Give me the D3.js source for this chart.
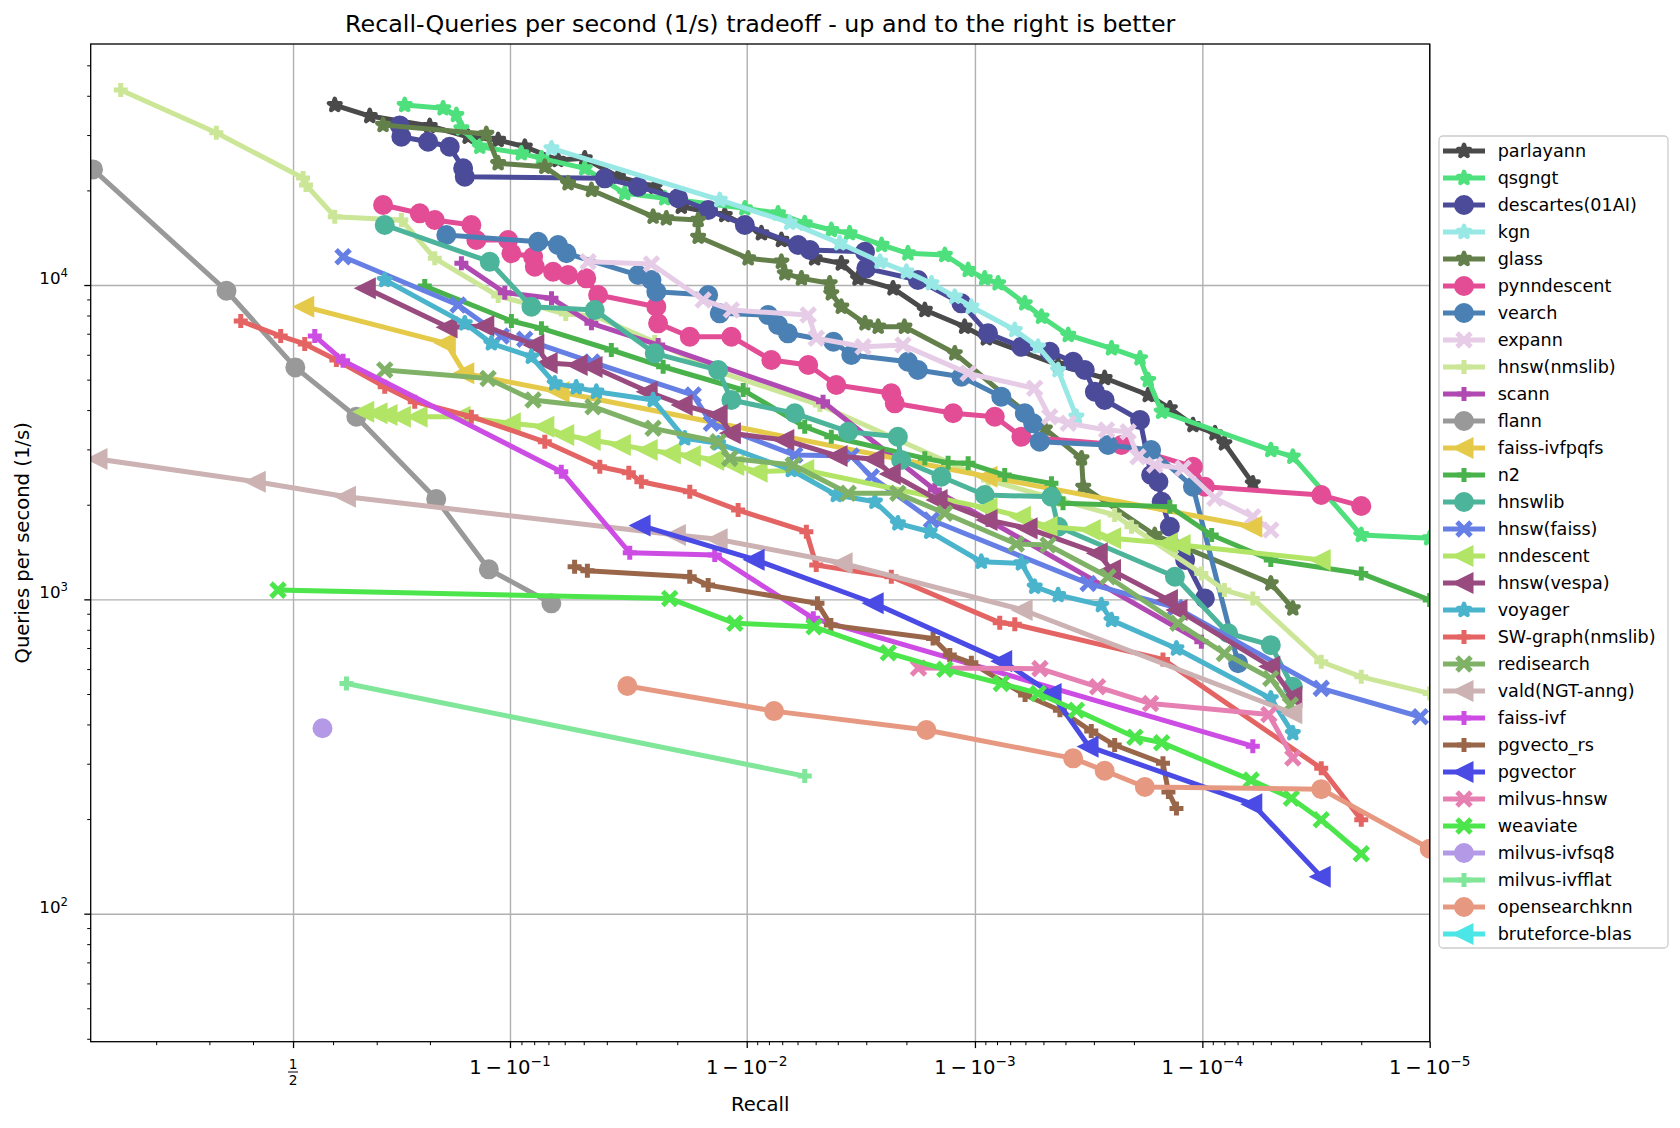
<!DOCTYPE html>
<html>
<head>
<meta charset="utf-8">
<script src="https://cdn.jsdelivr.net/npm/d3@7"></script>
<style>
body { margin: 0; background: #fff; }
svg text { font-family: "DejaVu Sans", sans-serif; fill: #000; }
</style>
</head>
<body>
<svg id="chart" width="1680" height="1128"></svg>
<script>
// ---- data: [recall, queries per second] ----
var parlayann = [[0.6041,37380],[0.685,34480],[0.7997,32050],[0.8549,29630],[0.8887,28930],[0.91275,27540],[0.93607,24990],[0.95048,25300],[0.96414,22110],[0.975,20550],[0.98078,17750],[0.98754,16700],[0.99137,14610],[0.99294,13910],[0.99495,12160],[0.99614,11720],[0.99674,10500],[0.99771,9761],[0.99834,8328],[0.99889,7368],[0.999109,6767],[0.999569,5566],[0.999731,5059],[0.999827,4467],[0.999861,4053],[0.99989,3585],[0.999912,3375],[0.99992,3136],[0.99994,2339]];
var qsgngt = [[0.756,37380],[0.8205,36490],[0.8395,34740],[0.8462,31520],[0.8689,27540],[0.90983,26240],[0.92524,25300],[0.95048,23510],[0.96643,19580],[0.97735,18880],[0.98981,17540],[0.9927,16910],[0.99442,15720],[0.99573,14960],[0.99645,14610],[0.99743,13410],[0.99803,12616],[0.998644,12460],[0.998929,11160],[0.999094,10500],[0.999209,10125],[0.999396,8746],[0.99949,7928],[0.999611,6934],[0.999749,6290],[0.999812,5845],[0.999827,4985],[0.999849,3954],[0.99995,2985],[0.99996,2843],[0.99998,1602],[0.99999,1564]];
var descartes = [[0.7465,32200],[0.7497,29630],[0.797,28570],[0.8302,27540],[0.8485,23510],[0.8506,22110],[0.95918,21850],[0.97055,20550],[0.98017,18880],[0.98529,17320],[0.98981,15520],[0.99403,13410],[0.9947,12925],[0.99696,12765],[0.997,11300],[0.99822,10373],[0.998853,8746],[0.999124,7020],[0.999375,6364],[0.999531,6135],[0.99963,5702],[0.999671,5364],[0.999703,4576],[0.999731,4306],[0.999812,3720],[0.999832,2486],[0.999844,2367],[0.999849,2044],[0.999861,1702],[0.999881,1334],[0.9999025,1007]];
var kgn = [[0.932,27220],[0.9869,18650],[0.99351,15790],[0.99608,13580],[0.99739,11863],[0.998,11020],[0.998447,10125],[0.998774,9180],[0.998963,8531],[0.999332,7192],[0.999472,6364],[0.999569,5364],[0.999642,3811]];
var glass = [[0.7134,32290],[0.8763,30240],[0.8887,24400],[0.92757,23790],[0.94189,21070],[0.95357,20060],[0.97459,16500],[0.97771,16300],[0.98375,16100],[0.98375,14240],[0.99014,12160],[0.99294,11863],[0.99318,10893],[0.99423,10500],[0.99566,10125],[0.99573,9410],[0.99614,8531],[0.99696,7552],[0.99734,7368],[0.99796,7368],[0.998774,6064],[0.999507,3492],[0.99966,2809],[0.999666,2281],[0.999838,1602],[0.99995,1124],[0.99996,936]];
var pynndescent = [[0.7134,17970],[0.783,16910],[0.8078,16100],[0.8589,15520],[0.8649,13910],[0.8983,13910],[0.9013,12616],[0.91919,12300],[0.92048,11435],[0.933,11020],[0.94189,10760],[0.9512,10500],[0.95648,9294],[0.97539,8531],[0.97581,7552],[0.98234,6848],[0.98834,6848],[0.99219,5773],[0.99461,5566],[0.99594,4806],[0.99767,4523],[0.99775,4204],[0.998753,3908],[0.999182,3811],[0.999375,3291],[0.999773,3097],[0.99989,2642],[0.9999025,2281],[0.99997,2147],[0.99998,1981]];
var vearch = [[0.8253,14430],[0.92287,13730],[0.93607,13410],[0.941,12616],[0.97054,10760],[0.97418,10373],[0.97539,9521],[0.98529,9294],[0.9869,8128],[0.99194,8027],[0.9927,7460],[0.99339,7020],[0.99582,6600],[0.99651,5988],[0.99803,5702],[0.99822,5364],[0.998853,5108],[0.999234,4413],[0.999396,3908],[0.999445,3631],[0.999481,3172],[0.99974,3097],[0.999832,2985],[0.99989,2281],[0.9999304,626]];
var expann = [[0.95202,11863],[0.97418,11664],[0.98454,8964],[0.98834,8328],[0.99461,8027],[0.99503,6767],[0.9969,6364],[0.99793,6445],[0.998929,5236],[0.999454,4692],[0.999531,3811],[0.999611,3631],[0.999736,3457],[0.999788,3414],[0.999808,2843],[0.999838,2675],[0.9998785,2611],[0.999912,2096],[0.99994,1831],[0.99995,1662]];
var hnswNmslib = [[0.1486,41730],[0.315,30520],[0.5253,21890],[0.5329,20800],[0.6041,16500],[0.7497,16100],[0.8078,12160],[0.8887,9226],[0.9406,8085],[0.95504,7970],[0.97498,6587],[0.98693,5287],[0.99521,4152],[0.999124,2397],[0.999577,2070],[0.999757,1855],[0.999795,1702],[0.999899,1209],[0.99992,1070],[0.99994,1007],[0.99997,633],[0.99998,567],[0.99999,502]];
var scann = [[0.8462,11722],[0.8952,9452],[0.932,9072],[0.95357,7552],[0.97581,6445],[0.99536,4254],[0.9985,2227],[0.999124,1788],[0.999899,733]];
var flann = [[0.1165,23330],[0.3375,9590],[0.5058,5470],[0.655,3810],[0.81,2084],[0.879,1246],[0.9319,971]];
var faissIvfpqfs = [[0.5296,8531],[0.8253,6525],[0.8506,5237],[0.9373,4566],[0.999124,2455],[0.99994,1702]];
var n2 = [[0.7915,9927],[0.9013,7684],[0.92524,7281],[0.96172,6213],[0.97699,5495],[0.98964,4634],[0.99442,3541],[0.99573,3291],[0.99834,2809],[0.998688,2720],[0.998929,2708],[0.99926,2486],[0.999539,2339],[0.99959,2021],[0.999861,1971],[0.999909,1602],[0.99995,1334],[0.99998,1209],[0.99999,995]];
var hnswlib = [[0.7168,15520],[0.88,11863],[0.91794,8531],[0.95504,8328],[0.975,6064],[0.98669,5364],[0.98834,4306],[0.99383,3908],[0.9964,3414],[0.99782,3291],[0.99789,2775],[0.998596,2455],[0.999094,2147],[0.999539,2121],[0.999569,1702],[0.999868,1180],[0.999923,780],[0.99995,715],[0.99996,527]];
var hnswFaiss = [[0.624,12303],[0.8418,8638],[0.8918,6882],[0.91266,6718],[0.95383,5689],[0.98292,4467],[0.98576,3631],[0.99383,2878],[0.99651,2857],[0.99715,2455],[0.998447,1788],[0.999682,1124],[0.999869,942],[0.99997,521],[0.999989,423]];
var nndescent = [[0.674,3954],[0.7029,3908],[0.7236,3858],[0.7497,3811],[0.7802,3811],[0.8457,3811],[0.9012,3631],[0.92757,3541],[0.94002,3333],[0.95347,3213],[0.96528,3097],[0.97333,2985],[0.97879,2914],[0.98261,2857],[0.98623,2775],[0.98873,2675],[0.99108,2547],[0.99442,2579],[0.999124,1948],[0.999375,1831],[0.999523,1702],[0.999692,1662],[0.999749,1564],[0.999859,1508],[0.999876,1489],[0.99997,1334]];
var hnswVespa = [[0.6775,9761],[0.8278,7335],[0.8746,7406],[0.92048,6445],[0.92981,5647],[0.94724,5566],[0.95429,5484],[0.97333,4576],[0.98113,4152],[0.98669,3858],[0.98834,3375],[0.99318,3213],[0.99601,2857],[0.99725,2789],[0.99767,2504],[0.998548,2070],[0.999124,1788],[0.999416,1682],[0.999713,1401],[0.999749,1239],[0.999859,995],[0.999872,925],[0.99995,611],[0.99996,490]];
var voyager = [[0.7168,10373],[0.8506,7552],[0.8817,6525],[0.91785,5914],[0.93405,4866],[0.94625,4726],[0.95574,4576],[0.9746,4306],[0.98143,3253],[0.98669,3136],[0.99361,2579],[0.99594,2147],[0.99725,2044],[0.99782,1745],[0.99842,1641],[0.999062,1317],[0.999375,1302],[0.999454,1097],[0.999569,1032],[0.999722,959],[0.999749,859],[0.99987,698],[0.99995,484],[0.99996,375]];
var swGraph = [[0.3706,7684],[0.4688,6882],[0.5296,6493],[0.608,5773],[0.7168,4747],[0.7743,4254],[0.8589,3811],[0.92757,3172],[0.95719,2642],[0.96774,2528],[0.97148,2367],[0.98234,2200],[0.9891,1924],[0.99451,1641],[0.99503,1285],[0.99767,1180],[0.999222,843],[0.999332,833],[0.999851,644],[0.99997,290],[0.99998,199]];
var redisearch = [[0.7168,5364],[0.8782,5041],[0.91919,4306],[0.95429,4101],[0.9746,3500],[0.98669,3172],[0.98814,2809],[0.99373,2675],[0.9964,2174],[0.99782,2174],[0.998644,1878],[0.999342,1500],[0.999523,1489],[0.99974,1180],[0.999872,839],[0.99992,673],[0.99995,560],[0.999959,461]];
var vald = [[0.1218,2795],[0.408,2367],[0.632,2121],[0.97982,1602],[0.98669,1552],[0.99621,1302],[0.999386,925],[0.99996,434]];
var faissIvf = [[0.5548,6882],[0.624,5743],[0.938,2547],[0.96803,1407],[0.98623,1384],[0.99488,870],[0.99994,341]];
var pgvectoRs = [[0.94541,1270],[0.95173,1233],[0.98233,1180],[0.98529,1110],[0.99509,971],[0.99571,828],[0.998473,751],[0.99871,665],[0.998963,628],[0.999398,496],[0.999577,444],[0.999692,381],[0.999757,344],[0.999851,301],[0.999859,244],[0.99987,216]];
var pgvector = [[0.9714,1717],[0.99081,1337],[0.99723,972],[0.999245,636],[0.999542,500],[0.999685,340],[0.99994,223],[0.99997,131]];
var milvusHnsw = [[0.99823,605],[0.999482,602],[0.999711,527],[0.999831,466],[0.999949,430],[0.99996,313]];
var weaviate = [[0.462,1070],[0.97844,1007],[0.98873,839],[0.99492,818],[0.9976,676],[0.998644,599],[0.999234,540],[0.999473,502],[0.999642,444],[0.999802,364],[0.999849,350],[0.999939,266],[0.9999594,233],[0.99997,199],[0.99998,155]];
var milvusIvfsq8 = [[0.574,389]];
var milvusIvfflat = [[0.632,540],[0.99442,274]];
var opensearchknn = [[0.96727,530],[0.9924,441],[0.998366,384],[0.99963,312],[0.999731,285],[0.999821,253],[0.99997,249],[0.99999,161]];
var bruteforceBlas = [];

var names = ["parlayann","qsgngt","descartes(01AI)","kgn","glass","pynndescent","vearch","expann","hnsw(nmslib)","scann","flann","faiss-ivfpqfs","n2","hnswlib","hnsw(faiss)","nndescent","hnsw(vespa)","voyager","SW-graph(nmslib)","redisearch","vald(NGT-anng)","faiss-ivf","pgvecto_rs","pgvector","milvus-hnsw","weaviate","milvus-ivfsq8","milvus-ivfflat","opensearchknn","bruteforce-blas"];
var values = [parlayann,qsgngt,descartes,kgn,glass,pynndescent,vearch,expann,hnswNmslib,scann,flann,faissIvfpqfs,n2,hnswlib,hnswFaiss,nndescent,hnswVespa,voyager,swGraph,redisearch,vald,faissIvf,pgvectoRs,pgvector,milvusHnsw,weaviate,milvusIvfsq8,milvusIvfflat,opensearchknn,bruteforceBlas];
var colors = ["#4a4a4a","#4ee07c","#4b4b9a","#98e8e6","#637f4a","#e34d95","#4a80b4","#e6cce6","#cce698","#b04ab2","#999999","#e5ca4a","#4ab24a","#4cb49a","#667fe4","#b2e466","#994a7e","#4ab4cc","#e46464","#7fb266","#ccb2b2","#cc4ce4","#99664a","#4a4ae4","#e67fb2","#4ce64c","#b399e6","#80e699","#e69980","#4ce6e6"];
var markers = ["*","*","o","*","*","o","o","x","+","+","o","<","+","o","x","<","<","*","+","x","<","+","+","<","x","x","o","+","o","<"];

var xMajor = [0.5, 0.9, 0.99, 0.999, 0.9999, 0.99999];
var xMajorSup = ["", "\u22121", "\u22122", "\u22123", "\u22124", "\u22125"];
var yMajor = [100, 1000, 10000];
var yMajorSup = ["2", "3", "4"];

// ---- layout ----
var svg = d3.select("#chart");
var plot = { left: 90.7, right: 1429.7, top: 44, bottom: 1041.7 };
var odds = function(r) { return r / (1 - r); };

// logit axis = log scale over the odds r/(1-r)
var xScale = d3.scaleLog().domain([0.1288, 99999]).range([plot.left, plot.right]);
var yScale = d3.scaleLog().domain([39.15, 58450]).range([plot.bottom, plot.top]);
var px = function(d) { return xScale(odds(d[0])); };
var py = function(d) { return yScale(d[1]); };

svg.append("rect").attr("width", 1680).attr("height", 1128).attr("fill", "#fff");

svg.append("defs").append("clipPath").attr("id", "clip")
   .append("rect").attr("x", plot.left).attr("y", plot.top)
   .attr("width", plot.right - plot.left).attr("height", plot.bottom - plot.top);

// minor tick positions
var xMinor = [0.2, 0.3, 0.4, 0.6, 0.7, 0.8];
for (var e = 2; e <= 5; e++) {
	for (var k = 2; k <= 9; k++) xMinor.push(1 - k * Math.pow(10, -e));
}
var yMinor = [];
for (var p = 1; p <= 4; p++) {
	for (var m = 2; m <= 9; m++) {
		var v = m * Math.pow(10, p);
		if (v > 39.15 && v < 58450) yMinor.push(v);
	}
}

// grid
var grid = svg.append("g");
grid.append("g").attr("transform", "translate(0," + plot.bottom + ")")
	.call(d3.axisBottom(xScale).tickValues(xMajor.map(odds)).tickSize(-(plot.bottom - plot.top)).tickFormat(""))
	.call(function(g) { g.select(".domain").remove(); g.selectAll("line").attr("stroke", "#b0b0b0").attr("stroke-width", 1.4); });
grid.append("g").attr("transform", "translate(" + plot.left + ",0)")
	.call(d3.axisLeft(yScale).tickValues(yMajor).tickSize(-(plot.right - plot.left)).tickFormat(""))
	.call(function(g) { g.select(".domain").remove(); g.selectAll("line").attr("stroke", "#b0b0b0").attr("stroke-width", 1.4); });

// series
var markerPath = {
	"o": d3.symbol(d3.symbolCircle, Math.PI * 7.5 * 7.5)(),
	"*": d3.symbol(d3.symbolStar, 42)(),
	"<": "M-7,0L7,-7L7,7Z",
	"+": "M-7,0H7M0,-7V7",
	"x": "M-7,-7L7,7M-7,7L7,-7"
};
function styleMarker(sel, shape, color) {
	sel.attr("d", markerPath[shape]).attr("stroke", color);
	if (shape === "+" || shape === "x") {
		sel.attr("fill", "none").attr("stroke-width", 5).attr("stroke-linecap", "butt");
	} else if (shape === "*") {
		sel.attr("fill", color).attr("stroke-width", 4.5).attr("stroke-linejoin", "round");
	} else if (shape === "<") {
		sel.attr("fill", color).attr("stroke-width", 5).attr("stroke-linejoin", "miter");
	} else {
		sel.attr("fill", color).attr("stroke-width", 5);
	}
}

var line = d3.line().x(px).y(py);
var series = svg.append("g").attr("clip-path", "url(#clip)");
names.forEach(function(name, i) {
	var g = series.append("g");
	if (values[i].length > 1) {
		g.append("path").attr("d", line(values[i])).attr("fill", "none")
		 .attr("stroke", colors[i]).attr("stroke-width", 5)
		 .attr("stroke-linejoin", "round").attr("stroke-linecap", "square");
	}
	g.selectAll("path.mk").data(values[i]).enter().append("path")
	 .attr("class", "mk")
	 .attr("transform", function(d) { return "translate(" + px(d) + "," + py(d) + ")"; })
	 .call(styleMarker, markers[i], colors[i]);
});

// axes ticks
var axes = svg.append("g");
function tickStyle(g, w) { g.select(".domain").remove(); g.selectAll("line").attr("stroke", "#000").attr("stroke-width", w); }
axes.append("g").attr("transform", "translate(0," + plot.bottom + ")")
	.call(d3.axisBottom(xScale).tickValues(xMajor.map(odds)).tickSize(6.4).tickFormat(""))
	.call(tickStyle, 1.3);
axes.append("g").attr("transform", "translate(0," + plot.bottom + ")")
	.call(d3.axisBottom(xScale).tickValues(xMinor.map(odds)).tickSize(3.5).tickFormat(""))
	.call(tickStyle, 1);
axes.append("g").attr("transform", "translate(" + plot.left + ",0)")
	.call(d3.axisLeft(yScale).tickValues(yMajor).tickSize(6.4).tickFormat(""))
	.call(tickStyle, 1.3);
axes.append("g").attr("transform", "translate(" + plot.left + ",0)")
	.call(d3.axisLeft(yScale).tickValues(yMinor).tickSize(3.5).tickFormat(""))
	.call(tickStyle, 1);

svg.append("rect").attr("x", plot.left).attr("y", plot.top)
	.attr("width", plot.right - plot.left).attr("height", plot.bottom - plot.top)
	.attr("fill", "none").attr("stroke", "#000").attr("stroke-width", 1.3);

// x tick labels (logit notation)
xMajor.forEach(function(v, i) {
	var cx = xScale(odds(v));
	if (i === 0) {
		svg.append("text").attr("x", cx).attr("y", 1069.3).attr("text-anchor", "middle")
		   .style("font-size", "13.7px").text("1");
		svg.append("line").attr("x1", cx - 5).attr("x2", cx + 5).attr("y1", 1072).attr("y2", 1072)
		   .attr("stroke", "#000").attr("stroke-width", 1);
		svg.append("text").attr("x", cx).attr("y", 1085).attr("text-anchor", "middle")
		   .style("font-size", "13.7px").text("2");
		return;
	}
	var t = svg.append("text").attr("x", cx).attr("y", 1074).attr("text-anchor", "middle")
		.style("font-size", "19.6px");
	t.append("tspan").text("1");
	t.append("tspan").attr("dx", 3.8).text("\u2212");
	t.append("tspan").attr("dx", 3.8).text("10");
	t.append("tspan").attr("dy", -8).style("font-size", "13.7px").text(xMajorSup[i]);
});

// y tick labels
yMajor.forEach(function(v, i) {
	var t = svg.append("text").attr("x", 68).attr("y", yScale(v) - 1).attr("text-anchor", "end")
		.style("font-size", "16.7px");
	t.append("tspan").text("10");
	t.append("tspan").attr("dy", -7).style("font-size", "11.7px").text(yMajorSup[i]);
});

// titles
svg.append("text").attr("x", (plot.left + plot.right) / 2).attr("y", 32).attr("text-anchor", "middle")
	.style("font-size", "23.8px").text("Recall-Queries per second (1/s) tradeoff - up and to the right is better");
svg.append("text").attr("x", (plot.left + plot.right) / 2).attr("y", 1110.5).attr("text-anchor", "middle")
	.style("font-size", "19.6px").text("Recall");
svg.append("text").attr("transform", "translate(28.5," + ((plot.top + plot.bottom) / 2) + ") rotate(-90)")
	.attr("text-anchor", "middle").style("font-size", "19.6px").text("Queries per second (1/s)");

// legend
var legend = svg.append("g");
legend.append("rect").attr("x", 1439).attr("y", 136).attr("width", 229).attr("height", 812)
	.attr("rx", 4).attr("fill", "#fff").attr("fill-opacity", 0.8)
	.attr("stroke", "#cccccc").attr("stroke-width", 1.3);
names.forEach(function(name, i) {
	var cy = 151 + 27 * i;
	var item = legend.append("g");
	item.append("line").attr("x1", 1443).attr("x2", 1485).attr("y1", cy).attr("y2", cy)
		.attr("stroke", colors[i]).attr("stroke-width", 5);
	item.append("path").attr("transform", "translate(1464," + cy + ")").call(styleMarker, markers[i], colors[i]);
	item.append("text").attr("x", 1497.7).attr("y", cy).attr("dy", "0.35em")
		.style("font-size", "17.6px").text(name);
});
</script>
</body>
</html>
